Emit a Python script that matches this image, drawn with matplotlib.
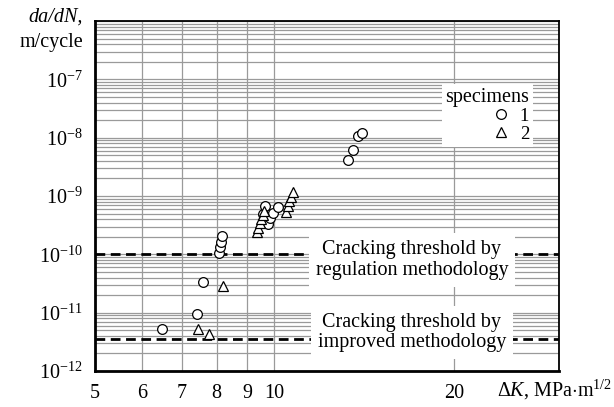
import matplotlib
matplotlib.use("Agg")
import matplotlib.pyplot as plt
from matplotlib import ticker

# ---- data ----
k_spec1 = [6.47, 7.40, 7.60, 8.07, 8.10, 8.13, 8.16, 9.58, 9.63, 9.75, 9.84, 9.96, 10.12, 13.28, 13.54, 13.80, 14.00]
v_spec1 = [5.2e-12, 9.4e-12, 3.36e-11, 1.07e-10, 1.36e-10, 1.65e-10, 2.04e-10, 5.0e-10, 6.76e-10, 3.32e-10,
           4.16e-10, 5.19e-10, 6.43e-10, 4.1e-9, 6.25e-9, 1.06e-8, 1.22e-8]
k_spec2 = [7.45, 7.76, 8.20, 9.35, 9.40, 9.45, 9.50, 9.55, 9.60, 10.45, 10.52, 10.58, 10.65, 10.72]
v_spec2 = [5.3e-12, 4.3e-12, 2.87e-11, 2.4e-10, 2.85e-10, 3.4e-10, 4.0e-10, 4.7e-10, 5.5e-10,
           5.4e-10, 6.76e-10, 8.24e-10, 9.77e-10, 1.19e-9]
threshold_regulation = 1.0e-10
threshold_improved = 3.6e-12
x_ticks = [5, 6, 7, 8, 9, 10, 20, 30]
x_labels = ["5", "6", "7", "8", "9", "10", "20", ""]
y_ticks = [1e-12, 1e-11, 1e-10, 1e-9, 1e-8, 1e-7, 1e-6]
y_labels = ["10$^{-12}$", "10$^{-11}$", "10$^{-10}$", "10$^{-9}$", "10$^{-8}$", "10$^{-7}$", ""]

plt.rcParams['font.family'] = ['Liberation Serif', 'DejaVu Serif']
plt.rcParams['mathtext.fontset'] = 'custom'
plt.rcParams['mathtext.rm'] = 'Liberation Serif'
plt.rcParams['mathtext.it'] = 'Liberation Serif:italic'
plt.rcParams['mathtext.bf'] = 'Liberation Serif:bold'

FS = 14.5
fig = plt.figure(figsize=(6.14, 4.07), dpi=100)
ax = fig.add_axes([95/614, 36/407, (559-95)/614, (371-21)/407])
ax.set_xscale('log')
ax.set_yscale('log')
ax.set_xlim(5, 30)
ax.set_ylim(1e-12, 1e-6)

ax.set_xticks(x_ticks)
ax.set_xticklabels(x_labels)
ax.xaxis.set_minor_locator(ticker.NullLocator())
ax.set_yticks(y_ticks)
ax.set_yticklabels(y_labels)
ax.yaxis.set_minor_locator(ticker.LogLocator(base=10, subs=range(2, 10), numticks=20))
ax.yaxis.set_minor_formatter(ticker.NullFormatter())
ax.tick_params(axis='both', which='both', length=0, labelsize=FS)
ax.tick_params(axis='x', pad=9)
ax.tick_params(axis='y', pad=9)

ax.grid(True, which='major', axis='x', color='#9a9a9a', lw=0.9, zorder=0)
ax.grid(True, which='both', axis='y', color='#9a9a9a', lw=0.9, zorder=0)
ax.set_axisbelow(True)
for s in ax.spines.values():
    s.set_color('black')
    s.set_linewidth(1.3)
ax.spines['left'].set_linewidth(2)
ax.spines['bottom'].set_linewidth(2)

ax.axhline(threshold_regulation, color='black', lw=2.0, dashes=(3.5, 2), zorder=2)
ax.axhline(threshold_improved, color='black', lw=2.0, dashes=(3.5, 2), zorder=2)

ax.plot(k_spec1, v_spec1, 'o', ms=7, mfc='white', mec='black', mew=0.9, zorder=4, label='1')
ax.plot(k_spec2, v_spec2, '^', ms=6.5, mfc='white', mec='black', mew=0.9, zorder=4, label='2')

bbox = dict(boxstyle='square,pad=0.35', facecolor='white', edgecolor='none')
ax.text(17.0, 8.0e-11, "Cracking threshold by\nregulation methodology", ha='center', va='center',
        fontsize=FS, linespacing=1.1, bbox=bbox, zorder=5)
ax.text(17.0, 4.6e-12, "Cracking threshold by\nimproved methodology", ha='center', va='center',
        fontsize=FS, linespacing=1.1, bbox=bbox, zorder=5)

leg = ax.legend(title='specimens', loc='upper right', bbox_to_anchor=(533/614, 1-84/407),
                bbox_transform=fig.transFigure, frameon=True, fancybox=False, framealpha=1,
                edgecolor='none', facecolor='white', fontsize=FS - 1, title_fontsize=FS,
                alignment='right', handletextpad=0.4, borderpad=0.2, labelspacing=0.05,
                handlelength=1.2, borderaxespad=0)
leg.set_zorder(6)

fig.text(83/614, 1-17/407, "da/dN,", ha='right', va='center', fontsize=FS, style='italic')
fig.text(83/614, 1-43/407, "m/cycle", ha='right', va='center', fontsize=FS)
fig.text(497/614, 1-390/407, r"$\mathit{\Delta K}$, MPa$\cdot$m$^{1/2}$", ha='left', va='center', fontsize=FS)

fig.savefig("out.png", dpi=100)
